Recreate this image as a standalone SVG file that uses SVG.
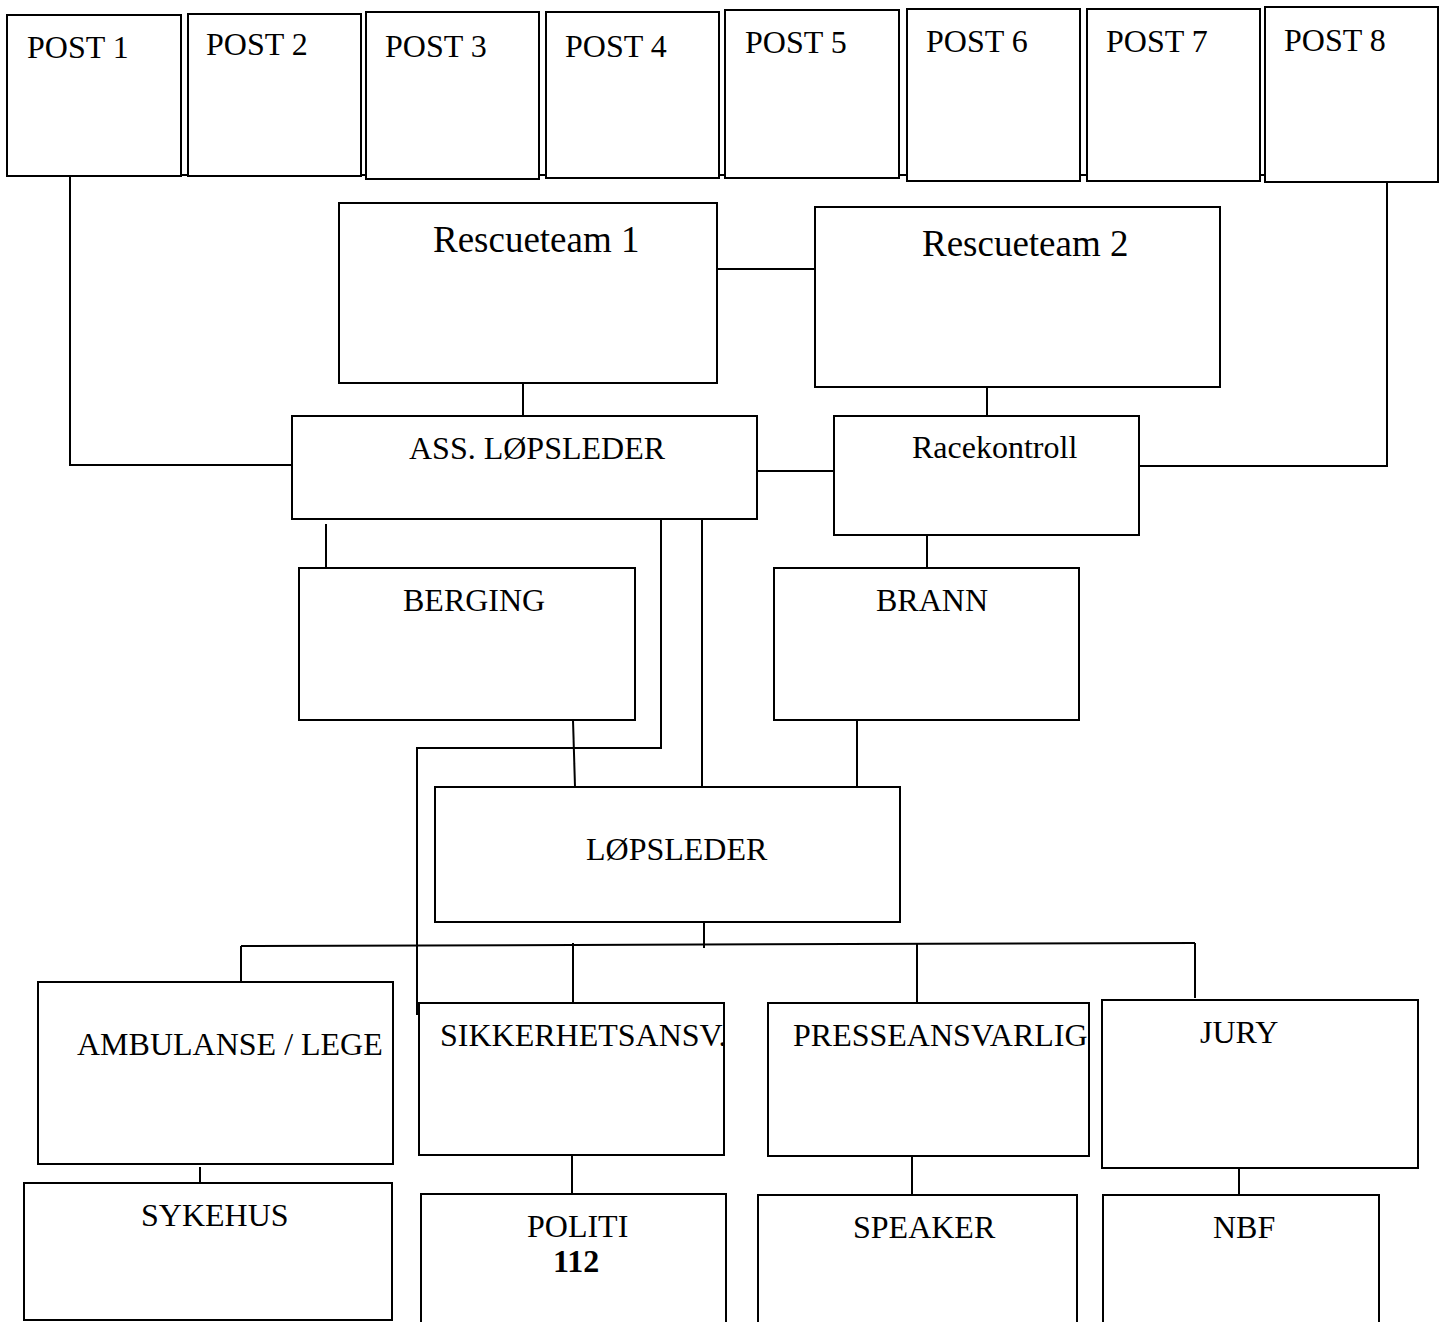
<svg xmlns="http://www.w3.org/2000/svg" width="1445" height="1322" viewBox="0 0 1445 1322">
<style>
.box{fill:#fff;stroke:#000;stroke-width:2}
.ln{fill:none;stroke:#000;stroke-width:2}
text{font-family:"Liberation Serif","Times New Roman",serif;font-size:32px;fill:#000}
.big{font-size:37px}
.b{font-weight:bold}
</style>
<rect width="1445" height="1322" fill="#fff"/>
<g id="connectors">
<path class="ln" d="M181 175H188M361 175H366M539 175H546M719 175H725M899 175H907M1080 175H1087M1260 175H1265"/>
<path class="ln" d="M70 176V465H292"/>
<path class="ln" d="M1387 182V466H1139"/>
<path class="ln" d="M717 269H815"/>
<path class="ln" d="M523 383V416"/>
<path class="ln" d="M987 387V416"/>
<path class="ln" d="M757 471H834"/>
<path class="ln" d="M326 524V568"/>
<path class="ln" d="M927 535V568"/>
<path class="ln" d="M661 519V748H417V1015"/>
<path class="ln" d="M573 720L575 787"/>
<path class="ln" d="M702 519V787"/>
<path class="ln" d="M857 720V789"/>
<path class="ln" d="M704 922V948"/>
<path class="ln" d="M241 946L1195 943"/>
<path class="ln" d="M241 946V1001"/>
<path class="ln" d="M573 943V1003"/>
<path class="ln" d="M917 943V1003"/>
<path class="ln" d="M1195 943V998"/>
<path class="ln" d="M200 1167V1191"/>
<path class="ln" d="M572 1155V1194"/>
<path class="ln" d="M912 1155V1195"/>
<path class="ln" d="M1239 1168V1195"/>
</g>
<g id="post1"><rect class="box" x="7" y="15" width="174" height="161"/><text x="27" y="58">POST 1</text></g>
<g id="post2"><rect class="box" x="188" y="14" width="173" height="162"/><text x="206" y="55">POST 2</text></g>
<g id="post3"><rect class="box" x="366" y="12" width="173" height="167"/><text x="385" y="57">POST 3</text></g>
<g id="post4"><rect class="box" x="546" y="12" width="173" height="166"/><text x="565" y="57">POST 4</text></g>
<g id="post5"><rect class="box" x="725" y="10" width="174" height="168"/><text x="745" y="53">POST 5</text></g>
<g id="post6"><rect class="box" x="907" y="9" width="173" height="172"/><text x="926" y="52">POST 6</text></g>
<g id="post7"><rect class="box" x="1087" y="9" width="173" height="172"/><text x="1106" y="52">POST 7</text></g>
<g id="post8"><rect class="box" x="1265" y="7" width="173" height="175"/><text x="1284" y="51">POST 8</text></g>
<g id="rescueteam1"><rect class="box" x="339" y="203" width="378" height="180"/><text class="big" x="433" y="252">Rescueteam 1</text></g>
<g id="rescueteam2"><rect class="box" x="815" y="207" width="405" height="180"/><text class="big" x="922" y="256">Rescueteam 2</text></g>
<g id="ass-lopsleder"><rect class="box" x="292" y="416" width="465" height="103"/><text x="409" y="459">ASS. LØPSLEDER</text></g>
<g id="racekontroll"><rect class="box" x="834" y="416" width="305" height="119"/><text x="912" y="458">Racekontroll</text></g>
<g id="berging"><rect class="box" x="299" y="568" width="336" height="152"/><text x="403" y="611">BERGING</text></g>
<g id="brann"><rect class="box" x="774" y="568" width="305" height="152"/><text x="876" y="611">BRANN</text></g>
<g id="lopsleder"><rect class="box" x="435" y="787" width="465" height="135"/><text x="586" y="860">LØPSLEDER</text></g>
<g id="ambulanse"><rect class="box" x="38" y="982" width="355" height="182"/><text x="77" y="1055">AMBULANSE / LEGE</text></g>
<g id="sikkerhet"><rect class="box" x="419" y="1003" width="305" height="152"/><text x="440" y="1046">SIKKERHETSANSV.</text></g>
<g id="presse"><rect class="box" x="768" y="1003" width="321" height="153"/><text x="793" y="1046">PRESSEANSVARLIG</text></g>
<g id="jury"><rect class="box" x="1102" y="1000" width="316" height="168"/><text x="1200" y="1043">JURY</text></g>
<g id="sykehus"><rect class="box" x="24" y="1183" width="368" height="137"/><text x="141" y="1226">SYKEHUS</text></g>
<g id="politi"><rect class="box" x="421" y="1194" width="305" height="140"/><text x="527" y="1237">POLITI</text><text class="b" x="553" y="1272">112</text></g>
<g id="speaker"><rect class="box" x="758" y="1195" width="319" height="140"/><text x="853" y="1238">SPEAKER</text></g>
<g id="nbf"><rect class="box" x="1103" y="1195" width="276" height="140"/><text x="1213" y="1238">NBF</text></g>
</svg>
